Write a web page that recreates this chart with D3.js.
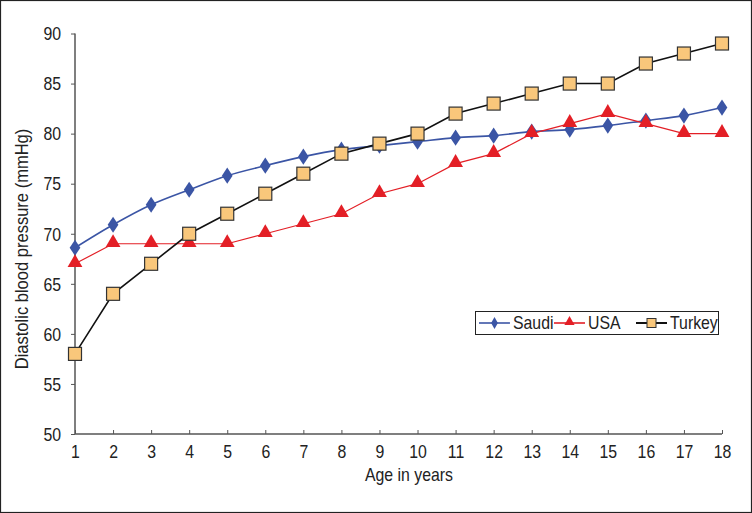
<!DOCTYPE html>
<html><head><meta charset="utf-8">
<script src="https://cdn.jsdelivr.net/npm/d3@7"></script>
<style>
body{margin:0;background:#fff;}
svg{display:block;}
text{font-family:'Liberation Sans',Arial,sans-serif;fill:#222;}
</style></head><body>
<svg id="chart" width="752" height="513"></svg>
<script>
const ages = [1,2,3,4,5,6,7,8,9,10,11,12,13,14,15,16,17,18];
const saudi = [68.6,70.9,72.9,74.4,75.8,76.8,77.7,78.4,78.8,79.2,79.6,79.8,80.2,80.4,80.8,81.3,81.8,82.6];
const usa = [67,69,69,69,69,70,71,72,74,75,77,78,80,81,82,81,80,80];
const turkey = [58,64,67,70,72,74,76,78,79,80,82,83,84,85,85,87,88,89];
const yTicks = [50,55,60,65,70,75,80,85,90];
const seriesNames = ["Saudi","USA","Turkey"];

const FS = 18, SX = 0.88;
const svg = d3.select("#chart");
svg.append("rect").attr("x",0.5).attr("y",0.5).attr("width",751).attr("height",512)
  .attr("fill","#fff").attr("stroke","#222").attr("stroke-width",1.2);

const x = d3.scaleLinear().domain([1,18]).range([75,722]);
const y = d3.scaleLinear().domain([50,90]).range([434,33.5]);

// y axis
const yAxis = svg.append("g").attr("transform","translate(75,0)")
  .call(d3.axisLeft(y).tickValues(yTicks).tickSize(4).tickPadding(12));
yAxis.select(".domain").attr("stroke","#555").attr("stroke-width",1.5).attr("d","M0,33.5V434");
yAxis.selectAll(".tick line").attr("stroke","#555");
yAxis.selectAll("text").attr("font-size",FS).attr("fill","#222").attr("dy","0.35em")
  .attr("transform",`scale(${SX},1)`).attr("x",-14/SX);

// x axis
const xAxis = svg.append("g").attr("transform","translate(0,434)")
  .call(d3.axisBottom(x).tickValues(ages).tickSize(0).tickPadding(11));
xAxis.select(".domain").attr("stroke","#555").attr("stroke-width",1.5).attr("d","M75,0H722");
xAxis.selectAll(".tick line").attr("y2",-4).attr("stroke","#555");
xAxis.selectAll("text").attr("font-size",FS).attr("fill","#222").attr("transform",`scale(${SX},1)`);

svg.append("text").attr("transform",`translate(409,481) scale(${SX},1)`).attr("text-anchor","middle")
  .attr("font-size",FS).text("Age in years");
svg.append("text").attr("transform",`translate(28,249) rotate(-90) scale(${SX},1)`).attr("text-anchor","middle")
  .attr("font-size",18.8).text("Diastolic blood pressure (mmHg)");

const blue="#3b55a5", red="#e31f26", tan="#f9c77b";

const lineStraight = d3.line().x((d,i)=>x(ages[i])).y(d=>y(d));
const lineSmooth = d3.line().x((d,i)=>x(ages[i])).y(d=>y(d)).curve(d3.curveCatmullRom.alpha(0.5));

svg.append("path").datum(saudi).attr("d",lineSmooth).attr("fill","none").attr("stroke",blue).attr("stroke-width",1.6);
svg.append("path").datum(usa).attr("d",lineStraight).attr("fill","none").attr("stroke",red).attr("stroke-width",1.2);
svg.append("path").datum(turkey).attr("d",lineStraight).attr("fill","none").attr("stroke","#111").attr("stroke-width",1.6);

const diamond = d3.symbol().type(d3.symbolDiamond).size(75);
const triangle = d3.symbol().type(d3.symbolTriangle).size(95);

svg.append("g").selectAll("path").data(saudi).join("path")
  .attr("transform",(d,i)=>`translate(${x(ages[i])},${y(d)}) scale(1.15,1)`)
  .attr("d",diamond).attr("fill",blue);
svg.append("g").selectAll("path").data(usa).join("path")
  .attr("transform",(d,i)=>`translate(${x(ages[i])},${y(d)-1})`)
  .attr("d",triangle).attr("fill",red);
svg.append("g").selectAll("rect").data(turkey).join("rect")
  .attr("x",(d,i)=>x(ages[i])-6.5).attr("y",d=>y(d)-6.5).attr("width",13).attr("height",13)
  .attr("fill",tan).attr("stroke","#333").attr("stroke-width",1.2);

// legend
const lg = svg.append("g");
lg.append("rect").attr("x",475.5).attr("y",311.5).attr("width",243).attr("height",23)
  .attr("fill","#fff").attr("stroke","#222").attr("stroke-width",1);
const items = [
  {name:seriesNames[0], x0:479, color:blue, sym:"d"},
  {name:seriesNames[1], x0:554, color:red, sym:"t"},
  {name:seriesNames[2], x0:636, color:"#111", sym:"s"}
];
const ly = 323;
items.forEach(it=>{
  lg.append("line").attr("x1",it.x0).attr("x2",it.x0+31).attr("y1",ly).attr("y2",ly)
    .attr("stroke",it.color).attr("stroke-width",it.sym==="s"?2:1.6);
  const cx = it.x0+15.5;
  if(it.sym==="d") lg.append("path").attr("transform",`translate(${cx},${ly})`).attr("d",d3.symbol().type(d3.symbolDiamond).size(40)).attr("fill",blue);
  if(it.sym==="t") lg.append("path").attr("transform",`translate(${cx},${ly-1})`).attr("d",d3.symbol().type(d3.symbolTriangle).size(45)).attr("fill",red);
  if(it.sym==="s") lg.append("rect").attr("x",cx-4.5).attr("y",ly-4.5).attr("width",9).attr("height",9).attr("fill",tan).attr("stroke","#333");
  lg.append("text").attr("transform",`translate(${it.x0+34},${ly}) scale(${SX},1)`).attr("dy","0.35em").attr("font-size",FS).text(it.name);
});
</script>
</body></html>
